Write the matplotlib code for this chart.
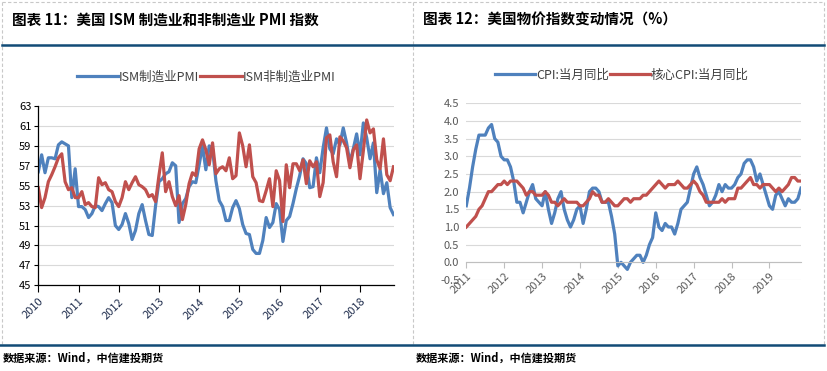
import matplotlib
matplotlib.use("Agg")
import matplotlib.pyplot as plt

plt.rcParams['font.family'] = ['Noto Sans CJK SC', 'DejaVu Sans']

# left chart: ISM PMI, monthly
ism_years = ['2010', '2011', '2012', '2013', '2014', '2015', '2016', '2017', '2018']
ism_mfg = [56.4, 58.1, 56.3, 57.8, 57.8, 57.7, 59.1, 59.4, 59.2, 59.0, 53.8, 56.7,
           52.9, 52.9, 52.6, 51.8, 52.2, 53.0, 52.9, 52.5, 53.2, 53.8, 53.3, 51.0,
           50.6, 51.1, 52.2, 51.2, 49.6, 50.5, 52.2, 53.1, 51.5, 50.1, 50.0, 53.0,
           55.4, 55.7, 56.2, 56.4, 57.3, 57.0, 51.3, 53.2, 53.7, 54.9, 55.4, 55.3,
           57.1, 59.0, 56.6, 59.0, 58.7, 55.5, 53.5, 52.9, 51.5, 51.5, 52.8, 53.5,
           52.7, 51.1, 50.2, 50.1, 48.6, 48.2, 48.2, 49.5, 51.8, 50.8, 51.3, 53.2,
           52.6, 49.4, 51.5, 51.9, 53.2, 54.7, 56.0, 57.7, 57.2, 54.8, 54.9, 57.8,
           56.3, 58.8, 60.8, 58.7, 58.2, 59.7, 59.1, 60.8, 59.3, 57.3, 58.7, 60.2,
           58.1, 61.3, 59.8, 57.7, 59.3, 54.3, 56.6, 54.2, 55.3, 52.8, 52.1]
ism_nonmfg = [54.8, 52.8, 53.8, 55.4, 56.1, 56.9, 57.8, 58.2, 55.4, 54.6, 54.8, 53.8,
              53.8, 54.4, 53.1, 53.3, 52.9, 52.8, 55.8, 55.1, 55.3, 54.6, 54.4, 53.4,
              52.9, 53.8, 55.4, 54.6, 55.3, 55.9, 55.1, 54.9, 54.6, 53.9, 54.1, 53.4,
              56.0, 58.3, 54.4, 55.4, 53.9, 53.0, 54.0, 51.6, 53.1, 55.2, 56.3, 56.0,
              58.7, 59.6, 58.6, 57.1, 59.3, 56.2, 56.7, 56.9, 56.5, 57.8, 55.7, 56.0,
              60.3, 59.0, 56.9, 59.1, 55.9, 55.3, 53.5, 53.4, 54.5, 55.7, 52.9, 56.5,
              55.5, 51.4, 57.1, 54.8, 57.2, 57.2, 56.5, 57.6, 55.2, 57.5, 56.9, 57.4,
              53.9, 55.3, 59.8, 60.1, 57.4, 55.9, 59.9, 59.5, 58.8, 56.8, 58.6, 59.1,
              55.7, 58.5, 61.6, 60.3, 60.7, 57.6, 56.7, 59.7, 56.1, 55.5, 56.9]

# right chart: US CPI yoy, monthly from 2011-01
cpi_years = ['2011', '2012', '2013', '2014', '2015', '2016', '2017', '2018', '2019']
cpi = [1.6, 2.1, 2.7, 3.2, 3.6, 3.6, 3.6, 3.8, 3.9, 3.5, 3.4, 3.0,
       2.9, 2.9, 2.7, 2.3, 1.7, 1.7, 1.4, 1.7, 2.0, 2.2, 1.8, 1.7,
       1.6, 2.0, 1.5, 1.1, 1.4, 1.8, 2.0, 1.5, 1.2, 1.0, 1.2, 1.5,
       1.6, 1.1, 1.5, 2.0, 2.1, 2.1, 2.0, 1.7, 1.7, 1.7, 1.3, 0.8,
       -0.1, 0.0, -0.1, -0.2, 0.0, 0.1, 0.2, 0.2, 0.0, 0.2, 0.5, 0.7,
       1.4, 1.0, 0.9, 1.1, 1.0, 1.0, 0.8, 1.1, 1.5, 1.6, 1.7, 2.1,
       2.5, 2.7, 2.4, 2.2, 1.9, 1.6, 1.7, 1.9, 2.2, 2.0, 2.2, 2.1,
       2.1, 2.2, 2.4, 2.5, 2.8, 2.9, 2.9, 2.7, 2.3, 2.5, 2.2, 1.9,
       1.6, 1.5, 1.9, 2.0, 1.8, 1.6, 1.8, 1.7, 1.7, 1.8, 2.1]
core_cpi = [1.0, 1.1, 1.2, 1.3, 1.5, 1.6, 1.8, 2.0, 2.0, 2.1, 2.2, 2.2,
            2.3, 2.2, 2.3, 2.3, 2.3, 2.2, 2.1, 1.9, 2.0, 2.0, 1.9, 1.9,
            1.9, 2.0, 1.9, 1.7, 1.7, 1.6, 1.7, 1.8, 1.7, 1.7, 1.7, 1.7,
            1.6, 1.6, 1.7, 1.8, 2.0, 1.9, 1.9, 1.7, 1.7, 1.8, 1.7, 1.6,
            1.6, 1.7, 1.8, 1.8, 1.7, 1.8, 1.8, 1.8, 1.9, 1.9, 2.0, 2.1,
            2.2, 2.3, 2.2, 2.1, 2.2, 2.2, 2.2, 2.3, 2.2, 2.1, 2.1, 2.2,
            2.3, 2.2, 2.0, 1.9, 1.7, 1.7, 1.7, 1.7, 1.7, 1.8, 1.7, 1.8,
            1.8, 1.8, 2.1, 2.1, 2.2, 2.3, 2.4, 2.2, 2.2, 2.1, 2.2, 2.2,
            2.2, 2.1, 2.0, 2.1, 2.0, 2.1, 2.2, 2.4, 2.4, 2.3, 2.3]

BLUE = '#4F81BD'
RED = '#C0504D'
NAVY = '#114B76'
W, H = 827, 371


def box(x0, y0, x1, y1):
    # pixel box -> figure fraction [left, bottom, width, height]
    return [x0 / W, 1 - y1 / H, (x1 - x0) / W, (y1 - y0) / H]


fig = plt.figure(figsize=(W / 100, H / 100), dpi=100)

# frame: dashed borders and thick rules
frame = fig.add_axes([0, 0, 1, 1])
frame.set_xlim(0, W)
frame.set_ylim(H, 0)
frame.axis('off')
for x in (2, 413, 824):
    frame.plot([x, x], [2, 344], color='#C8C8C8', lw=0.8, ls=(0, (3, 2)))
frame.plot([2, 824], [2, 2], color='#C8C8C8', lw=0.8, ls=(0, (3, 2)))
frame.plot([2, 824], [44.5, 44.5], color=NAVY, lw=1.8)
frame.plot([0, 824], [344.5, 344.5], color=NAVY, lw=1.8)

fig.text(12 / W, 1 - 20 / H, '图表 11：美国 ISM 制造业和非制造业 PMI 指数',
         fontsize=10.5, fontweight='bold', va='center', ha='left')
fig.text(423 / W, 1 - 20 / H, '图表 12：美国物价指数变动情况（%）',
         fontsize=10.5, fontweight='bold', va='center', ha='left')
fig.text(3 / W, 1 - 358 / H, '数据来源：Wind，中信建投期货',
         fontsize=8, fontweight='bold', va='center', ha='left')
fig.text(416 / W, 1 - 358 / H, '数据来源：Wind，中信建投期货',
         fontsize=8, fontweight='bold', va='center', ha='left')

# ---- left chart
ax1 = fig.add_axes(box(38.3, 106, 393.5, 285.3))
months1 = list(range(len(ism_mfg)))
l1, = ax1.plot(months1, ism_mfg, color=BLUE, lw=2.3, label='ISM制造业PMI')
l2, = ax1.plot(months1, ism_nonmfg, color=RED, lw=2.3, label='ISM非制造业PMI')
ax1.set_xlim(0, len(ism_mfg) - 1)
ax1.set_ylim(45, 63)
ax1.set_yticks(range(45, 64, 2))
ax1.set_xticks(range(0, 12 * len(ism_years), 12))
ax1.set_xticklabels(ism_years, rotation=45, ha='right', va='top',
                    rotation_mode='anchor', color='#1F2D4D', fontsize=8)
ax1.tick_params(axis='y', labelsize=8, length=3, width=0.8, colors='black', pad=2)
ax1.tick_params(axis='x', length=5, width=0.8, pad=3)
ax1.grid(axis='y', color='#D9D9D9', lw=0.8)
ax1.set_axisbelow(True)
for s in ('top', 'right'):
    ax1.spines[s].set_visible(False)
ax1.spines['left'].set_linewidth(0.9)
ax1.spines['bottom'].set_linewidth(0.9)

fig.legend(handles=[l1, l2], loc='center', bbox_to_anchor=(206 / W, 1 - 77 / H),
           ncol=2, frameon=False, fontsize=9, handlelength=3.3, handletextpad=0.05,
           columnspacing=0.1, labelcolor='#404040')

# ---- right chart
ax2 = fig.add_axes(box(466.3, 103.3, 801, 280))
for s in ('top', 'right', 'left'):
    ax2.spines[s].set_visible(False)
ax2.spines['bottom'].set_position(('data', 0))
ax2.spines['bottom'].set_color('#BFBFBF')
ax2.spines['bottom'].set_linewidth(0.8)

months2 = list(range(len(cpi)))
l3, = ax2.plot(months2, cpi, color=BLUE, lw=2.3, label='CPI:当月同比')
l4, = ax2.plot(months2, core_cpi, color=RED, lw=2.3, label='核心CPI:当月同比')
ax2.set_xlim(0, len(cpi) - 1)
ax2.set_ylim(-0.5, 4.5)
ax2.set_yticks([i * 0.5 - 0.5 for i in range(11)])
ax2.set_yticklabels(['%.1f' % (i * 0.5 - 0.5) for i in range(11)])
ax2.set_xticks(range(0, 12 * len(cpi_years), 12))
ax2.set_xticklabels(cpi_years, rotation=45, ha='right', va='top',
                    rotation_mode='anchor', color='#595959', fontsize=8)
ax2.tick_params(axis='y', labelsize=8, length=0, colors='#595959', pad=5)
ax2.tick_params(axis='x', length=4, width=0.8, color='#BFBFBF', pad=2)
ax2.grid(axis='y', color='#D9D9D9', lw=0.8)
ax2.set_axisbelow(True)

fig.legend(handles=[l3, l4], loc='center', bbox_to_anchor=(622 / W, 1 - 75 / H),
           ncol=2, frameon=False, fontsize=9, handlelength=3.2, handletextpad=0.05,
           columnspacing=0.1, labelcolor='#404040')

fig.savefig('out.png', dpi=100)
